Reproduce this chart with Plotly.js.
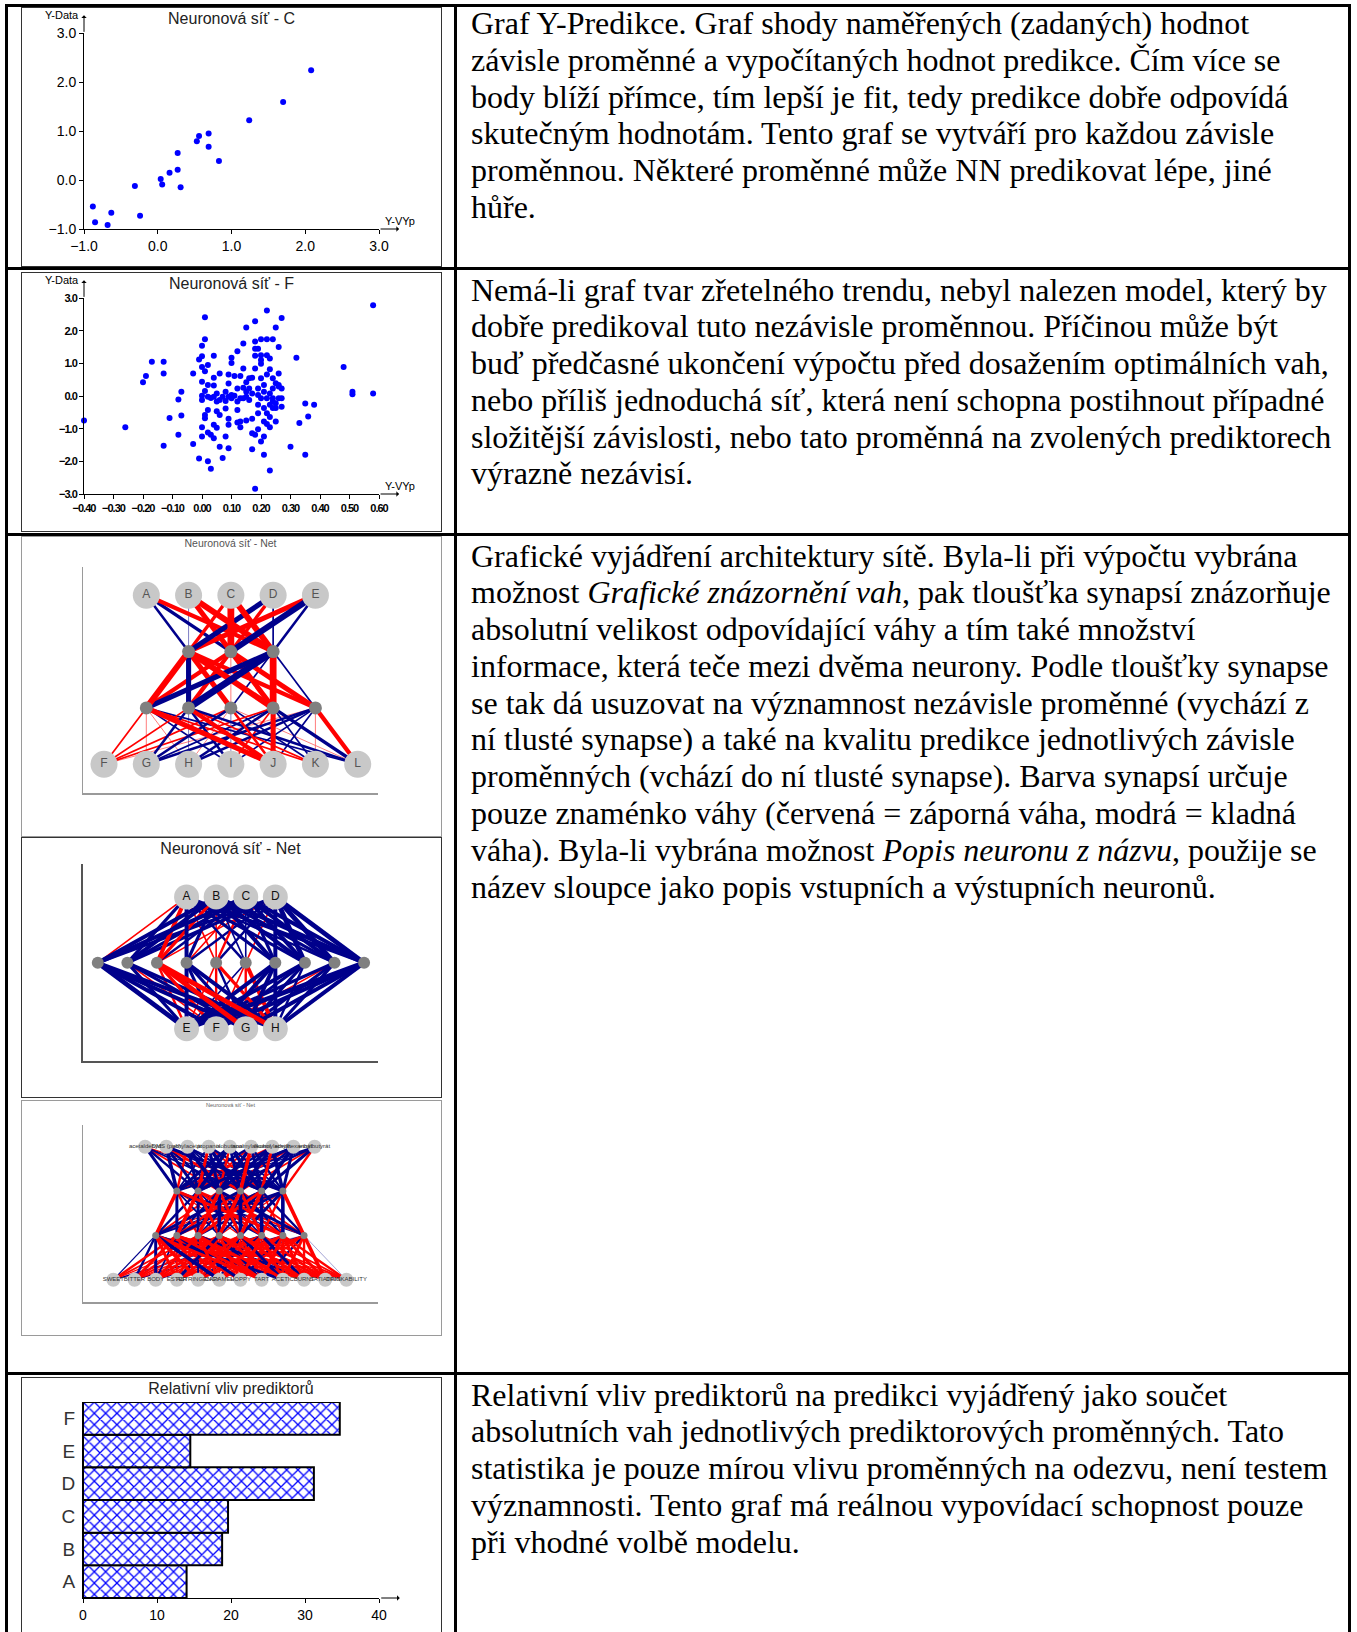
<!DOCTYPE html>
<html lang="cs">
<head>
<meta charset="utf-8">
<title>Neuronová síť – výstupy</title>
<script src="https://cdn.plot.ly/plotly-3.0.1.min.js"></script>
<style>
html,body{margin:0;padding:0;background:#fff;}
body{position:relative;width:1357px;height:1632px;overflow:hidden;}
.rule{position:absolute;background:#000;}
.frame{position:absolute;box-sizing:border-box;background:#fff;}
.frame > .plot{position:absolute;left:-1px;top:-1px;}
.txt{position:absolute;left:471px;font-family:"Liberation Serif","Times New Roman",serif;font-size:32px;line-height:36.8px;color:#000;}
.txt > div{height:36.8px;white-space:pre;}
</style>
</head>
<body>

<!-- chart cells -->
<div class="frame" style="left:21px;top:7px;width:421px;height:260px;border:1px solid #333;"><div class="plot" id="chartC"></div></div>
<div class="frame" style="left:21px;top:272px;width:421px;height:260px;border:1px solid #333;"><div class="plot" id="chartF"></div></div>
<div class="frame" style="left:21px;top:536px;width:421px;height:301px;border:1px solid #9a9a9a;"><div class="plot" id="net1"></div></div>
<div class="frame" style="left:21px;top:837px;width:421px;height:261px;border:1px solid #333;"><div class="plot" id="net2"></div></div>
<div class="frame" style="left:21px;top:1100px;width:421px;height:236px;border:1px solid #9a9a9a;"><div class="plot" id="net3"></div></div>
<div class="frame" style="left:21px;top:1377px;width:421px;height:263px;border:1px solid #333;"><div class="plot" id="bars"></div></div>

<!-- table rules -->
<div class="rule" style="left:5px;top:4px;width:1346px;height:3px;"></div>
<div class="rule" style="left:5px;top:4px;width:3px;height:1640px;"></div>
<div class="rule" style="left:1348px;top:4px;width:3px;height:1640px;"></div>
<div class="rule" style="left:454px;top:4px;width:3px;height:1640px;"></div>
<div class="rule" style="left:5px;top:267px;width:1346px;height:3px;"></div>
<div class="rule" style="left:5px;top:533px;width:1346px;height:3px;"></div>
<div class="rule" style="left:5px;top:1372px;width:1346px;height:3px;"></div>

<!-- text cells -->
<div class="txt" style="top:5px;"><div>Graf Y-Predikce. Graf shody naměřených (zadaných) hodnot</div><div>závisle proměnné a vypočítaných hodnot predikce. Čím více se</div><div>body blíží přímce, tím lepší je fit, tedy predikce dobře odpovídá</div><div>skutečným hodnotám. Tento graf se vytváří pro každou závisle</div><div>proměnnou. Některé proměnné může NN predikovat lépe, jiné</div><div>hůře.</div></div>
<div class="txt" style="top:271.5px;"><div>Nemá-li graf tvar zřetelného trendu, nebyl nalezen model, který by</div><div>dobře predikoval tuto nezávisle proměnnou. Příčinou může být</div><div>buď předčasné ukončení výpočtu před dosažením optimálních vah,</div><div>nebo příliš jednoduchá síť, která není schopna postihnout případné</div><div>složitější závislosti, nebo tato proměnná na zvolených prediktorech</div><div>výrazně nezávisí.</div></div>
<div class="txt" style="top:537.5px;"><div>Grafické vyjádření architektury sítě. Byla-li při výpočtu vybrána</div><div><span>možnost </span><i>Grafické znázornění vah</i><span>, pak tloušťka synapsí znázorňuje</span></div><div>absolutní velikost odpovídající váhy a tím také množství</div><div>informace, která teče mezi dvěma neurony. Podle tloušťky synapse</div><div>se tak dá usuzovat na významnost nezávisle proměnné (vychází z</div><div>ní tlusté synapse) a také na kvalitu predikce jednotlivých závisle</div><div>proměnných (vchází do ní tlusté synapse). Barva synapsí určuje</div><div>pouze znaménko váhy (červená = záporná váha, modrá = kladná</div><div><span>váha). Byla-li vybrána možnost </span><i>Popis neuronu z názvu</i><span>, použije se</span></div><div>název sloupce jako popis vstupních a výstupních neuronů.</div></div>
<div class="txt" style="top:1376.5px;"><div>Relativní vliv prediktorů na predikci vyjádřený jako součet</div><div>absolutních vah jednotlivých prediktorových proměnných. Tato</div><div>statistika je pouze mírou vlivu proměnných na odezvu, není testem</div><div>významnosti. Tento graf má reálnou vypovídací schopnost pouze</div><div>při vhodné volbě modelu.</div></div>

<script>
// ---------- data: prediction plot, output C ----------
const predC_calc = [-0.88,-0.85,-0.63,-0.68,-0.31,-0.24,0.04,0.06,0.16,0.27,0.27,0.31,0.53,0.56,0.69,0.69,0.83,1.24,1.70,2.08];
const predC_data = [-0.54,-0.86,-0.67,-0.92,-0.12,-0.73,0.02,-0.09,0.15,0.21,0.55,-0.15,0.79,0.90,0.95,0.68,0.39,1.22,1.59,2.24];
const ticksC = [-1, 0, 1, 2, 3];

// ---------- data: prediction plot, output F ----------
const predF_calc = [
 -0.40,-0.26,-0.20,-0.19,-0.17,-0.13,-0.13,-0.13,-0.11,-0.08,-0.08,-0.07,-0.07,-0.03,-0.03,-0.01,-0.01,0.00,0.00,0.00,
 0.01,0.01,0.00,0.00,0.00,0.00,0.01,0.01,0.01,0.01,0.02,0.02,0.02,0.02,0.02,0.03,0.03,0.03,0.04,0.04,
 0.04,0.04,0.04,0.05,0.05,0.05,0.05,0.06,0.06,0.06,0.07,0.07,0.08,0.08,0.08,0.08,0.09,0.09,0.09,0.09,
 0.09,0.10,0.10,0.10,0.11,0.11,0.12,0.12,0.12,0.12,0.13,0.13,0.13,0.13,0.14,0.14,0.14,0.14,0.15,0.15,
 0.15,0.15,0.16,0.16,0.16,0.17,0.17,0.17,0.17,0.18,0.18,0.18,0.18,0.18,0.18,0.18,0.19,0.19,0.19,0.19,
 0.19,0.19,0.20,0.20,0.20,0.20,0.20,0.20,0.20,0.21,0.21,0.21,0.21,0.21,0.21,0.22,0.22,0.22,0.22,0.22,
 0.22,0.22,0.23,0.23,0.23,0.23,0.23,0.23,0.23,0.24,0.24,0.24,0.24,0.24,0.24,0.25,0.25,0.25,0.25,0.25,
 0.26,0.26,0.26,0.26,0.26,0.27,0.27,0.27,0.27,0.30,0.32,0.33,0.35,0.35,0.36,0.38,0.48,0.51,0.51,0.58,
 0.58,0.00,0.02,0.06,0.10,0.12,0.15,0.17,0.09,0.04,0.12];
const predF_data = [
 -0.75,-0.96,0.42,0.61,1.05,1.05,0.69,-1.52,-0.67,-1.19,-0.11,0.13,-0.60,0.69,-1.47,-1.91,1.12,-1.24,1.54,1.22,
 1.74,2.41,-0.96,-0.12,0.44,0.89,0.15,-0.58,0.76,-0.68,0.95,-1.12,-2.00,0.34,-0.43,-2.23,-0.06,-1.19,-0.88,-1.29,
 0.32,1.23,0.56,-0.97,-0.47,-0.17,0.08,-1.55,0.69,-0.58,-1.90,-0.02,-0.38,0.13,-1.24,-0.15,-1.60,0.66,0.38,-0.70,
 -0.88,-0.07,1.17,1.01,0.01,0.61,-0.81,1.37,0.23,-0.43,-0.07,-0.78,-0.96,0.61,0.25,1.61,0.84,-0.07,0.13,2.10,
 0.42,-0.75,0.54,-0.12,0.23,-1.63,-0.70,0.56,-1.14,1.23,-2.84,1.45,1.67,2.29,0.84,-1.19,0.03,-1.02,1.45,0.23,
 -0.27,-0.53,-1.39,1.10,0.54,0.99,1.74,-0.07,1.25,-0.78,-0.37,0.34,-1.24,-1.80,0.13,-0.86,-0.53,1.74,1.25,0.66,
 2.62,-0.07,-2.28,-0.96,1.15,-0.27,0.82,0.08,-0.64,-0.37,-0.17,0.23,1.74,0.54,-0.07,2.10,-0.37,-0.78,0.39,-0.22,
 0.34,0.69,1.50,-0.07,0.29,-0.33,0.23,-0.07,2.39,-1.55,1.17,-0.83,-0.23,-1.80,-0.63,-0.27,0.89,0.13,0.05,2.78,
 0.08,0.01,-0.02,-0.12,0.03,-0.17,-0.02,0.08,-0.02,-0.02];
const ticksF_x = [-0.4,-0.3,-0.2,-0.1,0,0.1,0.2,0.3,0.4,0.5,0.6];
const ticksF_y = [-3,-2,-1,0,1,2,3];

// ---------- data: network with 5 inputs, hidden 3 + 5, 7 outputs ----------
const net1_inputs  = ['A','B','C','D','E'];
const net1_hidden  = [3, 5];
const net1_outputs = ['F','G','H','I','J','K','L'];
// signed weights: negative = red, positive = blue
const net1_w_in_h1 = [
  [ 3,  4, -5],
  [ 1, -6, -7],
  [-4, -8, -7],
  [ 6, -4,  2],
  [-6,  7,  3]];
const net1_w_h1_h2 = [
  [-7,  6, -6, -7, -5],
  [-5, -5, -1, -6, -6],
  [ 6,  8,  2, -8,  2]];
const net1_w_h2_out = [
  [-2, -1, -1,  2, -6, -2,  2],
  [-2,  3,  1,  3, -5, -2,  3],
  [-2,  3, -1,  1, -3,  2, -1],
  [-2,  2,  3, -2, -6,  2,  4],
  [-1,  3,  3,  2,  2, -1, -5]];

// ---------- data: network with 4 inputs, hidden 10, 4 outputs ----------
const net2_inputs  = ['A','B','C','D'];
const net2_hidden  = [10];
const net2_outputs = ['E','F','G','H'];
const net2_w_in_h = [
  [-2, 4, -5, 5, -2, 3, 4, 4, 3, 4],
  [ 5, 5, -4, 4, -2, 2, 5, 5, 4, 5],
  [ 5, 4,  3,-2, -3, 2, 4, 5, 5, 5],
  [ 4, 4, -2, 3,  3,-2, 5, 6, 6, 6]];
const net2_w_h_out = [
  [ 6,  5,  5,  5],
  [ 4, -2,  4,  4],
  [-3, -4, -6, -6],
  [ 5,  4,  4,  5],
  [-2, -3,  3, -4],
  [ 2, -2, -3, -5],
  [ 5,  5,  5,  5],
  [ 5,  4,  4,  3],
  [ 4, -2,  4,  4],
  [ 6,  5,  5,  5]];

// ---------- data: network with named inputs and outputs ----------
const net3_inputs  = ['acetaldehyd','DMS (ppb)','ethylacetát','propanol','isobutanol','isoamylalkohol','isoamylacetát','ethylhexanoát','ethylbutyrát'];
const net3_hidden  = [6, 8];
const net3_outputs = ['SWEET','BITTER','BODY','ESTER','ASTRINGENCY','CARAMEL','HOPPY','TART','ACETIC','BURNT','SATIATING','DRINKABILITY'];
const net3_w_in_h1 = [
  [ 5,  4, -3,  3,  2, -2],
  [ 6,  5,  4, -4,  3,  5],
  [-4,  5,  6,  3,  4,  2],
  [ 3, -5,  5,  6, -3,  4],
  [ 5,  6, -4,  5,  6,  3],
  [ 4, -3,  6, -6,  5,  4],
  [-3,  4,  5,  6, -5,  6],
  [ 2,  5, -3,  4,  6,  5],
  [ 3,  2,  4, -3,  5, -4]];
const net3_w_h1_h2 = [
  [-6,  5, -4,  3, -2,  4, -5,  2],
  [ 4, -6,  5, -5,  3, -4,  2, -3],
  [-3,  4, -6,  6, -5,  3, -4,  5],
  [ 5, -4,  3, -6,  6, -5,  4, -3],
  [-2,  5, -5,  4, -6,  6, -3,  4],
  [ 3, -3,  4, -2,  5, -4,  6, -6]];
const net3_w_h2_out = [
  [ 2,  4,  5, -5, -6,  6, -4, -5,  5, -3, -2,  1],
  [-4, -5,  3, -3, -5, -4,  5, -5, -3, -4,  2, -2],
  [-3, -4, -5, -4,  3, -5, -3, -6, -4,  4, -3, -2],
  [-2, -3, -4,  5, -4, -3, -5,  4, -5, -4, -3, -2],
  [-1, -2, -3, -4, -5,  4, -3, -4,  5, -5, -4, -3],
  [ 2, -2, -3, -3,  4, -4, -5, -3, -4,  5, -4, -3],
  [-1,  2, -2, -3, -4, -3,  4, -5, -4, -5, -5, -4],
  [ 1, -1,  2, -2, -3, -4, -3,  4, -5, -4, -6,  1]];

// ---------- data: relative influence of predictors ----------
const predictors = ['A','B','C','D','E','F'];
const influence  = [14.0, 18.8, 19.6, 31.2, 14.5, 34.7];
const ticksBars  = [0, 10, 20, 30, 40];

// ---------- shared styling ----------
const SANS = 'Liberation Sans, Arial, sans-serif';
const RED = '#ff0000', BLUE = '#00008b';
const CFG = {staticPlot: true, displayModeBar: false};

function arrowAnn(x, y, xref, yref, ax, ay) {
  return {x: x, y: y, xref: xref, yref: yref, ax: ax, ay: ay, text: '', showarrow: true,
          arrowhead: 1, arrowsize: 0.9, arrowwidth: 1, arrowcolor: '#000', standoff: 0, startstandoff: 0};
}
function textAnn(text, x, y, xshift, yshift, size) {
  return {text: text, xref: 'paper', yref: 'paper', x: x, y: y, xshift: xshift, yshift: yshift,
          showarrow: false, xanchor: 'center', yanchor: 'middle',
          font: {family: 'Liberation Sans Narrow, ' + SANS, size: size, color: '#000'}};
}

function predictionPlot(id, title, xs, ys, xticks, yticks, xfmt, yfmt, tickSize) {
  const W = 421, H = 260;
  const layout = {
    width: W, height: H,
    margin: {l: 63, r: 62.7, t: 25.7, b: 37.7},
    paper_bgcolor: 'rgba(0,0,0,0)', plot_bgcolor: 'rgba(0,0,0,0)',
    showlegend: false,
    title: {text: title, x: 0.5, xanchor: 'center', xref: 'paper', y: 1 - 11 / H, yanchor: 'middle', yref: 'container',
            font: {family: SANS, size: 16, color: '#222'}},
    xaxis: {range: [xticks[0], xticks[xticks.length - 1]], tickvals: xticks, tickformat: xfmt, tickangle: 0,
            ticks: 'outside', ticklen: 4, tickcolor: '#000', tickwidth: 1,
            showline: true, linecolor: '#000', linewidth: 1, showgrid: false, zeroline: false,
            tickfont: {family: SANS, size: tickSize, color: '#000'}},
    yaxis: {range: [yticks[0], yticks[yticks.length - 1]], tickvals: yticks, tickformat: yfmt,
            ticks: 'outside', ticklen: 4, tickcolor: '#000', tickwidth: 1,
            showline: true, linecolor: '#000', linewidth: 1, showgrid: false, zeroline: false,
            tickfont: {family: SANS, size: tickSize, color: '#000'}},
    annotations: [
      arrowAnn(xticks[0], 1.09, 'x', 'paper', 0, 18),
      arrowAnn(1.068, yticks[0], 'paper', 'y', -20, 0),
      textAnn('Y-Data', 0, 1, -22.5, 17.7, 11),
      textAnn('Y-VYp', 1, 0, 20.7, 8.3, 11)
    ]
  };
  const trace = {type: 'scatter', mode: 'markers', x: xs, y: ys, hoverinfo: 'skip', cliponaxis: false,
                 marker: {color: '#0000ff', size: 6, line: {width: 0}}};
  return Plotly.newPlot(id, [trace], layout, CFG);
}

predictionPlot('chartC', 'Neuronová síť - C', predC_calc, predC_data, ticksC, ticksC, '.1f', '.1f', 14);
// the F plot uses tight, condensed tick labels
predictionPlot('chartF', 'Neuronová síť - F', predF_calc, predF_data, ticksF_x, ticksF_y, '.2f', '.1f', 11)
  .then(function (gd) {
    gd.querySelectorAll('.xtick text, .ytick text').forEach(function (t) {
      t.style.letterSpacing = '-1px';
      t.style.fontWeight = 'bold';
    });
  });

// ---------- network diagrams ----------
function layerNodes(n, level) {
  const xs = [], ys = [];
  for (let i = 0; i < n; i++) { xs.push(i - (n - 1) / 2); ys.push(level); }
  return {x: xs, y: ys};
}

function edgeTraces(layers, weights, scale) {
  const groups = {};
  weights.forEach(function (W, k) {
    const a = layers[k], b = layers[k + 1];
    W.forEach(function (row, i) {
      row.forEach(function (w, j) {
        const key = (w < 0 ? 'n' : 'p') + Math.abs(w);
        if (!groups[key]) groups[key] = {x: [], y: [], w: w};
        groups[key].x.push(a.x[i], b.x[j], null);
        groups[key].y.push(a.y[i], b.y[j], null);
      });
    });
  });
  return Object.values(groups)
    .sort(function (p, q) { return Math.abs(p.w) - Math.abs(q.w); })
    .map(function (g) {
      return {type: 'scatter', mode: 'lines', x: g.x, y: g.y, hoverinfo: 'skip',
              opacity: Math.abs(g.w) <= 1 ? 0.6 : 1,
              line: {color: g.w < 0 ? RED : BLUE, width: Math.abs(g.w) * scale}};
    });
}

function drawNet(id, spec) {
  const sizes = [spec.inputs.length].concat(spec.hidden, [spec.outputs.length]);
  const L = sizes.length;
  const layers = sizes.map(function (n, k) { return layerNodes(n, L - 1 - k); });
  const traces = edgeTraces(layers, spec.weights, spec.widthScale);
  layers.forEach(function (ly, k) {
    const isIn = k === 0, isOut = k === L - 1;
    const io = isIn || isOut;
    traces.push({
      type: 'scatter', mode: io ? 'markers+text' : 'markers', x: ly.x, y: ly.y,
      text: isIn ? spec.inputs : (isOut ? spec.outputs : null),
      textposition: 'middle center', textfont: spec.labelFont,
      marker: {size: io ? spec.ioSize : spec.hidSize, color: io ? '#c8c8c8' : '#808080', line: {width: 0}},
      cliponaxis: false, hoverinfo: 'skip'
    });
  });
  const layout = {
    width: spec.W, height: spec.H, margin: spec.margin,
    paper_bgcolor: 'rgba(0,0,0,0)', plot_bgcolor: 'rgba(0,0,0,0)', showlegend: false,
    title: {text: spec.title, x: 0.5, xanchor: 'center', xref: 'paper', y: 1 - spec.titleY / spec.H,
            yanchor: 'middle', yref: 'container', font: spec.titleFont},
    xaxis: {range: spec.xr, showline: true, linecolor: spec.axisColor, linewidth: spec.axisWidth,
            showgrid: false, zeroline: false, showticklabels: false, ticks: ''},
    yaxis: {range: spec.yr, showline: true, linecolor: spec.axisColor, linewidth: spec.axisWidth,
            showgrid: false, zeroline: false, showticklabels: false, ticks: ''}
  };
  return Plotly.newPlot(id, traces, layout, CFG);
}

drawNet('net1', {
  inputs: net1_inputs, hidden: net1_hidden, outputs: net1_outputs,
  weights: [net1_w_in_h1, net1_w_h1_h2, net1_w_h2_out], widthScale: 0.85,
  W: 421, H: 301, margin: {l: 62, r: 64, t: 31, b: 44},
  xr: [-3.497, 3.48], yr: [-0.51, 3.5],
  ioSize: 27, hidSize: 13,
  labelFont: {family: SANS, size: 12, color: '#555'},
  title: 'Neuronová síť - Net', titleY: 7, titleFont: {family: SANS, size: 10.5, color: '#555'},
  axisColor: '#9a9a9a', axisWidth: 1.5
});

drawNet('net2', {
  inputs: net2_inputs, hidden: net2_hidden, outputs: net2_outputs,
  weights: [net2_w_in_h, net2_w_h_out], widthScale: 0.8,
  W: 421, H: 261, margin: {l: 62, r: 64, t: 27, b: 37.3},
  xr: [-5.0, 4.97], yr: [-0.49, 2.5],
  ioSize: 25, hidSize: 12,
  labelFont: {family: SANS, size: 12, color: '#111'},
  title: 'Neuronová síť - Net', titleY: 11, titleFont: {family: SANS, size: 16, color: '#222'},
  axisColor: '#555', axisWidth: 2
});

drawNet('net3', {
  inputs: net3_inputs, hidden: net3_hidden, outputs: net3_outputs,
  weights: [net3_w_in_h1, net3_w_h1_h2, net3_w_h2_out], widthScale: 0.6,
  W: 421, H: 236, margin: {l: 62, r: 64, t: 25, b: 33.7},
  xr: [-6.93, 6.99], yr: [-0.5, 3.49],
  ioSize: 14, hidSize: 7,
  labelFont: {family: SANS, size: 6, color: '#333'},
  title: 'Neuronová síť - Net', titleY: 5, titleFont: {family: SANS, size: 5.6, color: '#666'},
  axisColor: '#9a9a9a', axisWidth: 1.5
});

// ---------- relative influence bar chart ----------
Plotly.newPlot('bars', [{
  type: 'bar', orientation: 'h', y: predictors, x: influence, width: 1, hoverinfo: 'skip',
  marker: {color: '#ffffff', line: {color: '#000', width: 2},
           pattern: {shape: 'x', fgcolor: '#0000ff', bgcolor: '#ffffff', size: 8, solidity: 0.3}}
}], {
  width: 421, height: 263, margin: {l: 62.3, r: 62.7, t: 24.7, b: 41.6},
  paper_bgcolor: 'rgba(0,0,0,0)', plot_bgcolor: 'rgba(0,0,0,0)', showlegend: false, bargap: 0,
  title: {text: 'Relativní vliv prediktorů', x: 0.5, xanchor: 'center', xref: 'paper', y: 1 - 11 / 263,
          yanchor: 'middle', yref: 'container', font: {family: SANS, size: 16, color: '#222'}},
  xaxis: {range: [0, 40], tickvals: ticksBars, ticks: 'outside', ticklen: 4, tickcolor: '#000',
          showline: true, linecolor: '#000', linewidth: 1, showgrid: false, zeroline: false,
          tickfont: {family: SANS, size: 14, color: '#000'}},
  yaxis: {type: 'category', range: [-0.5, 5.5], ticks: '', ticklabelstandoff: 3,
          showline: true, linecolor: '#000', linewidth: 1, showgrid: false, zeroline: false,
          tickfont: {family: SANS, size: 19, color: '#333'}},
  annotations: [arrowAnn(1.07, 0, 'paper', 'paper', -20, 0)]
}, CFG);
</script>
</body>
</html>
